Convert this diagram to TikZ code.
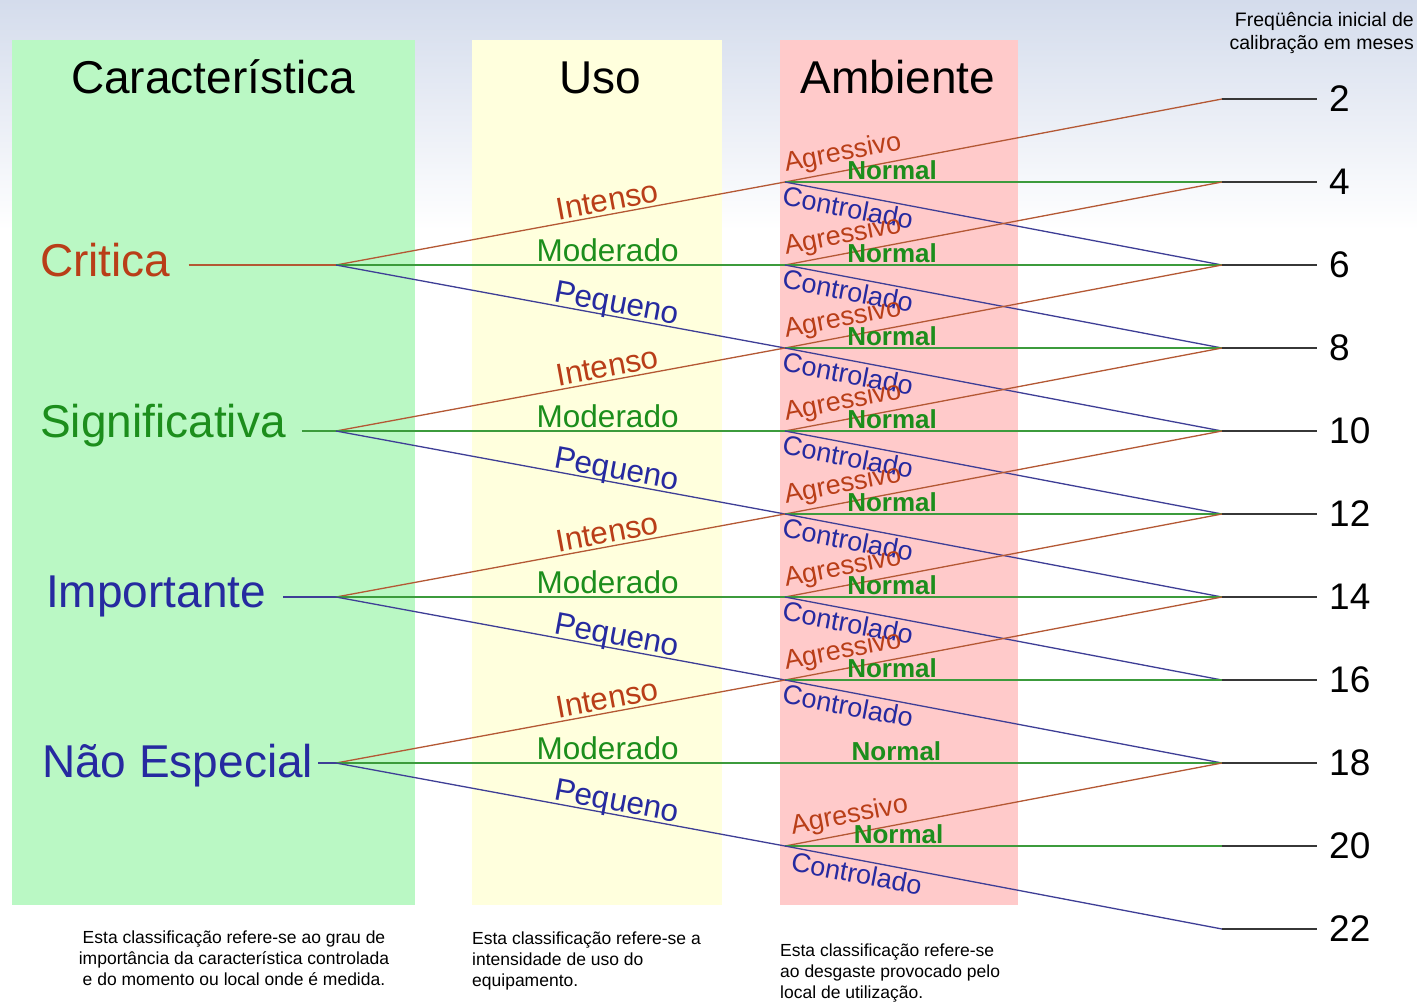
\documentclass[tikz,border=0pt]{standalone}
\usepackage{fontspec}
\setmainfont{Liberation Sans}

\definecolor{txred}{RGB}{185,62,24}
\definecolor{txgreen}{RGB}{28,142,28}
\definecolor{txblue}{RGB}{38,42,160}
\definecolor{lnred}{RGB}{180,88,52}
\definecolor{lngreen}{RGB}{60,155,60}
\definecolor{lnblue}{RGB}{62,62,150}
\definecolor{lnblack}{RGB}{55,55,55}
\definecolor{colgreen}{RGB}{186,248,196}
\definecolor{colyellow}{RGB}{255,255,221}
\definecolor{colpink}{RGB}{255,202,202}
\definecolor{bgtop}{RGB}{212,220,236}

\begin{document}
\begin{tikzpicture}[x=1pt, y=-1pt,
    redln/.style={draw=lnred, line width=1.3pt},
    greenln/.style={draw=lngreen, line width=1.3pt},
    blueln/.style={draw=lnblue, line width=1.3pt},
    blackln/.style={draw=lnblack, line width=1.5pt},
    title/.style={anchor=base, font=\fontsize{46}{48}\selectfont},
    charlbl/.style={anchor=base west, inner sep=0pt, font=\fontsize{46}{48}\selectfont},
    uselbl/.style={sloped, above, text depth=0pt, inner sep=3pt, font=\fontsize{31.5}{33}\selectfont},
    agrlbl/.style={sloped, above, inner sep=4pt, text=txred, font=\fontsize{27}{28}\selectfont},
    nrmlbl/.style={sloped, above, text depth=0pt, inner sep=1.5pt, text=txgreen, font=\bfseries\fontsize{26}{27}\selectfont},
    ctrlbl/.style={sloped, below, inner sep=3pt, text=txblue, font=\fontsize{27}{28}\selectfont},
    numlbl/.style={anchor=west, inner sep=0pt, inner xsep=12pt, font=\fontsize{37}{38}\selectfont},
    note/.style={inner sep=0pt, font=\fontsize{17.5}{21}\selectfont}]
    \useasboundingbox (0,0) rectangle (1417,1002);

    % background and columns
    \fill[white] (0,0) rectangle (1417,1002);
    \shade[top color=bgtop, bottom color=white] (0,0) rectangle (1417,230);
    \fill[colgreen] (12,40) rectangle (415,905);
    \fill[colyellow] (472,40) rectangle (722,905);
    \fill[colpink] (780,40) rectangle (1018,905);

    % titles
    \node[title] (tchar) at (213,93) {Característica};
    \node[title] (tuso) at (600,93) {Uso};
    \node[title] (tamb) at (898,93) {Ambiente};
    \node[note, anchor=north east, align=right, font=\fontsize{19.5}{23}\selectfont] (tfreq) at (1414,12) {Freqüência inicial de\\calibração em meses};

    % characteristic
    \node[charlbl, text=txred] (crit) at (40,276) {Critica};
    \node[charlbl, text=txgreen] (sig) at (40,437) {Significativa};
    \node[charlbl, text=txblue] (imp) at (46,607) {Importante};
    \node[charlbl, text=txblue] (nesp) at (42,777) {Não Especial};

    % branch points
    \coordinate (b1) at (336,265);
    \coordinate (b2) at (336,431);
    \coordinate (b3) at (336,597);
    \coordinate (b4) at (336,763);

    % usage points
    \coordinate (u1) at (785,182);
    \coordinate (u2) at (785,265);
    \coordinate (u3) at (785,348);
    \coordinate (u4) at (785,431);
    \coordinate (u5) at (785,514);
    \coordinate (u6) at (785,597);
    \coordinate (u7) at (785,680);
    \coordinate (u8) at (785,763);
    \coordinate (u9) at (785,846);

    % end points
    \coordinate (r1) at (1222,99);
    \coordinate (r2) at (1222,182);
    \coordinate (r3) at (1222,265);
    \coordinate (r4) at (1222,348);
    \coordinate (r5) at (1222,431);
    \coordinate (r6) at (1222,514);
    \coordinate (r7) at (1222,597);
    \coordinate (r8) at (1222,680);
    \coordinate (r9) at (1222,763);
    \coordinate (r10) at (1222,846);
    \coordinate (r11) at (1222,929);

    % months
    \node[numlbl] (n1) at (1317,99) {2};
    \node[numlbl] (n2) at (1317,182) {4};
    \node[numlbl] (n3) at (1317,265) {6};
    \node[numlbl] (n4) at (1317,348) {8};
    \node[numlbl] (n5) at (1317,431) {10};
    \node[numlbl] (n6) at (1317,514) {12};
    \node[numlbl] (n7) at (1317,597) {14};
    \node[numlbl] (n8) at (1317,680) {16};
    \node[numlbl] (n9) at (1317,763) {18};
    \node[numlbl] (n10) at (1317,846) {20};
    \node[numlbl] (n11) at (1317,929) {22};

    % characteristic to branch
    \draw[redln, shorten <=18pt] (crit.east |- b1) -- (b1);
    \draw[greenln, shorten <=16pt] (sig.east |- b2) -- (b2);
    \draw[blueln, shorten <=17pt] (imp.east |- b3) -- (b3);
    \draw[blueln, shorten <=5pt] (nesp.east |- b4) -- (b4);

    % uso
    \draw[redln] (b1) -- node[uselbl, pos=.61, text=txred] {Intenso} (u1);
    \draw[greenln] (b1) -- node[uselbl, pos=.605, text=txgreen] {Moderado} (u2);
    \draw[blueln] (b1) -- node[uselbl, pos=.62, text=txblue] {Pequeno} (u3);
    \draw[redln] (b2) -- node[uselbl, pos=.61, text=txred] {Intenso} (u3);
    \draw[greenln] (b2) -- node[uselbl, pos=.605, text=txgreen] {Moderado} (u4);
    \draw[blueln] (b2) -- node[uselbl, pos=.62, text=txblue] {Pequeno} (u5);
    \draw[redln] (b3) -- node[uselbl, pos=.61, text=txred] {Intenso} (u5);
    \draw[greenln] (b3) -- node[uselbl, pos=.605, text=txgreen] {Moderado} (u6);
    \draw[blueln] (b3) -- node[uselbl, pos=.62, text=txblue] {Pequeno} (u7);
    \draw[redln] (b4) -- node[uselbl, pos=.61, text=txred] {Intenso} (u7);
    \draw[greenln] (b4) -- node[uselbl, pos=.605, text=txgreen] {Moderado} (u8);
    \draw[blueln] (b4) -- node[uselbl, pos=.62, text=txblue] {Pequeno} (u9);

    % ambiente
    \draw[redln] (u1) -- node[agrlbl, pos=.14] {Agressivo} (r1);
    \draw[greenln] (u1) -- node[nrmlbl, pos=.245] {Normal} (r2);
    \draw[blueln] (u1) -- node[ctrlbl, pos=.15] {Controlado} (r3);
    \draw[redln] (u2) -- node[agrlbl, pos=.14] {Agressivo} (r2);
    \draw[greenln] (u2) -- node[nrmlbl, pos=.245] {Normal} (r3);
    \draw[blueln] (u2) -- node[ctrlbl, pos=.15] {Controlado} (r4);
    \draw[redln] (u3) -- node[agrlbl, pos=.14] {Agressivo} (r3);
    \draw[greenln] (u3) -- node[nrmlbl, pos=.245] {Normal} (r4);
    \draw[blueln] (u3) -- node[ctrlbl, pos=.15] {Controlado} (r5);
    \draw[redln] (u4) -- node[agrlbl, pos=.14] {Agressivo} (r4);
    \draw[greenln] (u4) -- node[nrmlbl, pos=.245] {Normal} (r5);
    \draw[blueln] (u4) -- node[ctrlbl, pos=.15] {Controlado} (r6);
    \draw[redln] (u5) -- node[agrlbl, pos=.14] {Agressivo} (r5);
    \draw[greenln] (u5) -- node[nrmlbl, pos=.245] {Normal} (r6);
    \draw[blueln] (u5) -- node[ctrlbl, pos=.15] {Controlado} (r7);
    \draw[redln] (u6) -- node[agrlbl, pos=.14] {Agressivo} (r6);
    \draw[greenln] (u6) -- node[nrmlbl, pos=.245] {Normal} (r7);
    \draw[blueln] (u6) -- node[ctrlbl, pos=.15] {Controlado} (r8);
    \draw[redln] (u7) -- node[agrlbl, pos=.14] {Agressivo} (r7);
    \draw[greenln] (u7) -- node[nrmlbl, pos=.245] {Normal} (r8);
    \draw[blueln] (u7) -- node[ctrlbl, pos=.15] {Controlado} (r9);
    \draw[greenln] (u8) -- node[nrmlbl, pos=.255] {Normal} (r9);
    \draw[redln] (u9) -- node[agrlbl, pos=.155] {Agressivo} (r9);
    \draw[greenln] (u9) -- node[nrmlbl, pos=.26] {Normal} (r10);
    \draw[blueln] (u9) -- node[ctrlbl, pos=.17] {Controlado} (r11);

    % to months
    \draw[blackln] (r1) -- (n1);
    \draw[blackln] (r2) -- (n2);
    \draw[blackln] (r3) -- (n3);
    \draw[blackln] (r4) -- (n4);
    \draw[blackln] (r5) -- (n5);
    \draw[blackln] (r6) -- (n6);
    \draw[blackln] (r7) -- (n7);
    \draw[blackln] (r8) -- (n8);
    \draw[blackln] (r9) -- (n9);
    \draw[blackln] (r10) -- (n10);
    \draw[blackln] (r11) -- (n11);

    % notes
    \node[note, anchor=north, align=center] (dchar) at (234,931) {Esta classificação refere-se ao grau de\\importância da característica controlada\\e do momento ou local onde é medida.};
    \node[note, anchor=north west, align=left] (duso) at (472,932) {Esta classificação refere-se a\\intensidade de uso do\\equipamento.};
    \node[note, anchor=north west, align=left] (damb) at (780,944) {Esta classificação refere-se\\ao desgaste provocado pelo\\local de utilização.};
\end{tikzpicture}
\end{document}
